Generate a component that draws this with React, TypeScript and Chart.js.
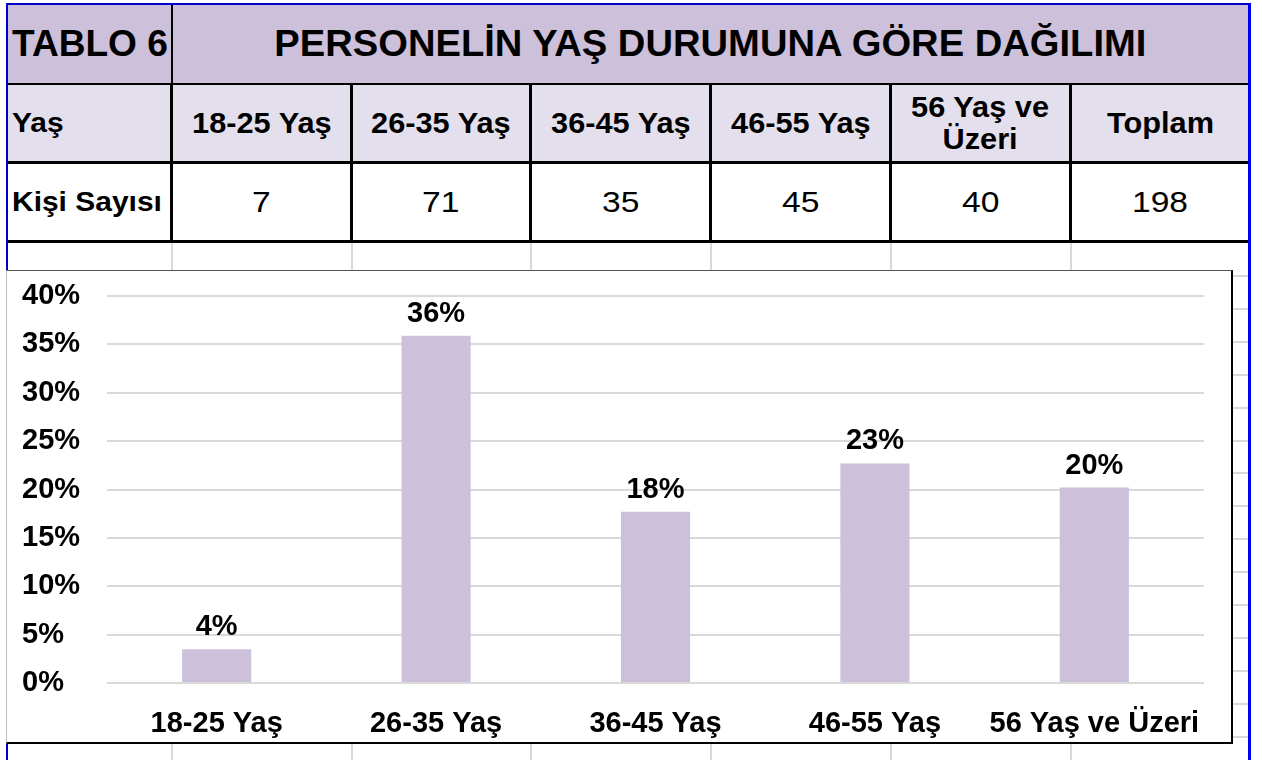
import React, { useEffect, useRef } from "react";
import { Chart, registerables } from "chart.js";

Chart.register(...registerables);

// ---- data ----
const tableNo = "TABLO 6";
const tableTitle = "PERSONELİN YAŞ DURUMUNA GÖRE DAĞILIMI";
const rowHeaderAge = "Yaş";
const rowHeaderCount = "Kişi Sayısı";
const headerLabels = ["18-25 Yaş", "26-35 Yaş", "36-45 Yaş", "46-55 Yaş", "56 Yaş ve\nÜzeri", "Toplam"];
const personCounts = ["7", "71", "35", "45", "40", "198"];
const ageGroups = ["18-25 Yaş", "26-35 Yaş", "36-45 Yaş", "46-55 Yaş", "56 Yaş ve Üzeri"];
const sharePercent = [3.5, 35.9, 17.7, 22.7, 20.2];
const shareLabels = ["4%", "36%", "18%", "23%", "20%"];
const yMax = 40;
const yStep = 5;

// ---- styles ----
const FONT = '"Liberation Sans", Arial, sans-serif';
const LAV = "#ccc0da";
const LAV_LIGHT = "#e4dfec";
const BAR = "#ccc0da";
const GRID = "#d9d9d9";
const BLUE = "#0000ee";

const colLines = [170, 350, 529, 709, 889, 1069];
const RIGHT = 1248;

const abs = (l: number, t: number, w: number, h: number, extra: any = {}) => ({
  position: "absolute" as const,
  left: l,
  top: t,
  width: w,
  height: h,
  ...extra,
});

const dataLabelPlugin = {
  id: "dataLabels",
  afterDatasetsDraw(chart: any) {
    const ctx = chart.ctx;
    const meta = chart.getDatasetMeta(0);
    ctx.save();
    ctx.font = `bold 29px ${FONT}`;
    ctx.fillStyle = "#000";
    ctx.textAlign = "center";
    ctx.textBaseline = "middle";
    meta.data.forEach((bar: any, i: number) => {
      ctx.fillText(shareLabels[i], bar.x, bar.y - 22);
    });
    ctx.restore();
  },
};

function ChartBox() {
  const ref = useRef<HTMLCanvasElement>(null);
  useEffect(() => {
    if (!ref.current) return;
    const chart = new Chart(ref.current, {
      type: "bar",
      data: {
        labels: ageGroups,
        datasets: [
          {
            data: sharePercent,
            backgroundColor: BAR,
            borderWidth: 0,
            categoryPercentage: 1,
            barPercentage: 0.315,
          },
        ],
      },
      options: {
        animation: false,
        responsive: false,
        devicePixelRatio: 1,
        layout: { padding: { left: 15, right: 27, top: 25, bottom: 0 } },
        plugins: { legend: { display: false }, tooltip: { enabled: false } },
        scales: {
          x: {
            grid: { display: false },
            border: { display: false },
            ticks: {
              color: "#000",
              font: { family: FONT, size: 29, weight: "bold" },
              padding: 16,
              maxRotation: 0,
              autoSkip: false,
            },
            afterFit: (s: any) => {
              s.height = 59;
            },
          },
          y: {
            min: 0,
            max: yMax,
            ticks: {
              stepSize: yStep,
              color: "#000",
              crossAlign: "far",
              padding: 0,
              font: { family: FONT, size: 29, weight: "bold" },
              callback: (v: any) => `${v}%`,
            },
            grid: { color: GRID, lineWidth: 2, drawTicks: false },
            border: { display: false },
            afterFit: (s: any) => {
              s.width = 85;
            },
          },
        },
      },
      plugins: [dataLabelPlugin],
    } as any);
    return () => chart.destroy();
  }, []);
  return <canvas ref={ref} width={1224} height={471} style={{ display: "block", width: 1224, height: 471 }} />;
}

function Stretch({ sx, origin, children }: { sx: number; origin: string; children: any }) {
  return (
    <span style={{ display: "inline-block", transform: `scaleX(${sx})`, transformOrigin: origin }}>{children}</span>
  );
}

export default function App() {
  const rowTops = [85, 164];
  const rowH = [76, 76];
  const cellEdges = [8, ...colLines.map((x) => x + 3)];
  const cellRights = [...colLines, RIGHT];

  const textBase = { fontFamily: FONT, color: "#000" };

  return (
    <div style={{ position: "fixed", left: 0, top: 0, width: 1262, height: 760, background: "#fff", overflow: "hidden" }}>
      {/* spreadsheet gridlines below the table */}
      {colLines.map((x, i) => (
        <div key={"g" + i} style={abs(x + 1, 243, 2, 517, { background: GRID })} />
      ))}
      {Array.from({ length: 15 }).map((_, i) => (
        <div key={"h" + i} style={abs(1233, 275 + i * 32.9, 15, 2, { background: GRID })} />
      ))}

      {/* row 1 */}
      <div style={abs(8, 5, RIGHT - 8, 78, { background: LAV })} />
      <div
        style={abs(8, 5, 162, 78, {
          ...textBase,
          fontWeight: "bold",
          fontSize: 36,
          display: "flex",
          alignItems: "center",
          paddingLeft: 4,
          boxSizing: "border-box",
          whiteSpace: "nowrap",
        })}
      >
        <Stretch sx={1.03} origin="left center">{tableNo}</Stretch>
      </div>
      <div
        style={abs(173, 5, RIGHT - 173, 78, {
          ...textBase,
          fontWeight: "bold",
          fontSize: 36,
          display: "flex",
          alignItems: "center",
          justifyContent: "center",
          whiteSpace: "nowrap",
        })}
      >
        <Stretch sx={1.06} origin="center center">{tableTitle}</Stretch>
      </div>
      <div style={abs(171, 5, 2, 78, { background: "#000" })} />
      <div style={abs(8, 83, RIGHT - 8, 2, { background: "#000" })} />

      {/* row 2 */}
      <div style={abs(8, 85, RIGHT - 8, 76, { background: LAV_LIGHT })} />
      {/* row 3 */}
      <div style={abs(8, 164, RIGHT - 8, 76, { background: "#fff" })} />

      {[0, 1].map((r) => (
        <React.Fragment key={"r" + r}>
          <div
            style={abs(8, rowTops[r], 162, rowH[r], {
              ...textBase,
              fontWeight: "bold",
              fontSize: 28,
              display: "flex",
              alignItems: "center",
              paddingLeft: 4,
              boxSizing: "border-box",
              whiteSpace: "nowrap",
            })}
          >
            <Stretch sx={1.07} origin="left center">{r === 0 ? rowHeaderAge : rowHeaderCount}</Stretch>
          </div>
          {(r === 0 ? headerLabels : personCounts).map((t, i) => (
            <div
              key={i}
              style={abs(cellEdges[i + 1], rowTops[r], cellRights[i + 1] - cellEdges[i + 1], rowH[r], {
                ...textBase,
                fontWeight: r === 0 ? "bold" : "normal",
                fontSize: r === 0 ? 29 : 30,
                display: "flex",
                alignItems: "center",
                justifyContent: "center",
                textAlign: "center",
                whiteSpace: "pre",
                lineHeight: "32px",
              })}
            >
              <Stretch sx={r === 0 ? 1.06 : 1.12} origin="center center">{t}</Stretch>
            </div>
          ))}
        </React.Fragment>
      ))}

      {/* table lines rows 2-3 */}
      <div style={abs(8, 161, RIGHT - 8, 3, { background: "#000" })} />
      <div style={abs(8, 240, RIGHT - 8, 3, { background: "#000" })} />
      {colLines.map((x, i) => (
        <div key={"v" + i} style={abs(x, 85, 3, 158, { background: "#000" })} />
      ))}

      {/* blue frame */}
      <div style={abs(6, 3, RIGHT - 6 + 3, 2, { background: "#0000cc" })} />
      <div style={abs(6, 3, 2, 757, { background: "#0000cc" })} />
      <div style={abs(RIGHT, 3, 3, 757, { background: BLUE })} />

      {/* chart box */}
      <div
        style={abs(6, 270, 1227, 474, {
          boxSizing: "border-box",
          background: "#fff",
          borderLeft: "1px solid #bfbfbf",
          borderTop: "1px solid #555",
          borderRight: "2px solid #000",
          borderBottom: "2px solid #000",
        })}
      >
        <ChartBox />
      </div>
    </div>
  );
}
